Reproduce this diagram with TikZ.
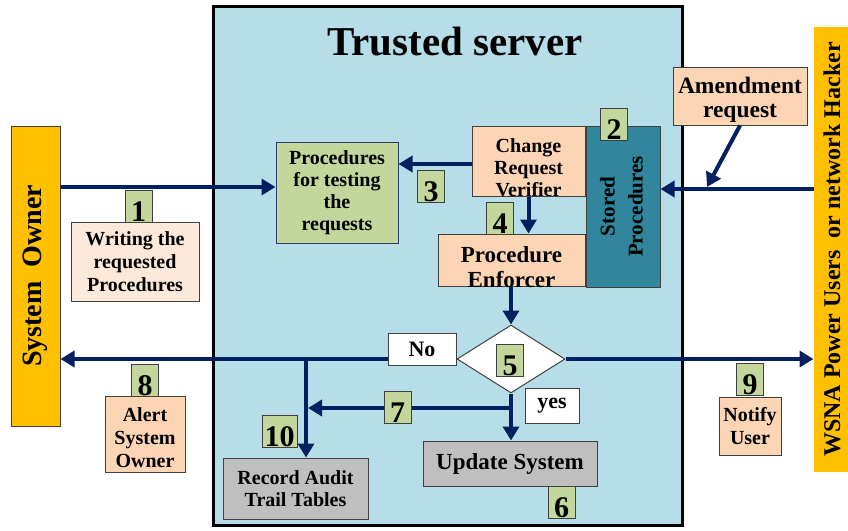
\documentclass[tikz,border=0pt]{standalone}
\usepackage{fontspec}
\setmainfont{Liberation Serif}
\usetikzlibrary{arrows.meta,shapes.geometric}

\definecolor{serverblue}{RGB}{183,222,232}
\definecolor{actororange}{RGB}{255,192,0}
\definecolor{peach}{RGB}{252,213,181}
\definecolor{pinklight}{RGB}{253,233,217}
\definecolor{numgreen}{RGB}{195,214,155}
\definecolor{tealbox}{RGB}{49,133,156}
\definecolor{greybox}{RGB}{191,191,191}
\definecolor{navy}{RGB}{0,32,96}
\definecolor{boxline}{RGB}{64,64,64}
\definecolor{procline}{RGB}{40,60,110}

\begin{document}
\begin{tikzpicture}[x=1pt,y=-1pt,
  box/.style={draw=boxline, line width=1pt, align=center, inner sep=0pt,
    text=black, font=\bfseries\fontsize{20}{22}\selectfont},
  txt/.style={align=center, inner sep=0pt, text=black,
    font=\bfseries\fontsize{20}{22}\selectfont},
  num/.style={draw=boxline, line width=1pt, fill=numgreen, minimum width=27pt,
    minimum height=32pt, inner sep=0pt, text=black,
    font=\bfseries\fontsize{30}{30}\selectfont, text height=30pt, text depth=0pt},
  flow/.style={draw=navy, line width=4pt, -{Triangle[length=14pt,width=16pt]}},
  ]
\useasboundingbox (0,0) rectangle (848,530);

% trusted server frame and title
\node[draw=black, line width=3pt, fill=serverblue, minimum width=469pt,
  minimum height=519pt, inner sep=0pt] (srv) at (448,266) {};
\node[txt, font=\bfseries\fontsize{41}{41}\selectfont] (title) at (455,42) {Trusted server};

% actors on both sides
\node[box, fill=actororange, minimum width=49pt, minimum height=300pt,
  font=\bfseries\fontsize{28}{28}\selectfont] (so) at (35.5,276)
  {\rotatebox{90}{System\ \ Owner}};
\node[box, draw=none, fill=actororange, minimum width=36pt, minimum height=445pt,
  font=\bfseries\fontsize{24}{24}\selectfont] (wsna) at (832,249.5)
  {\rotatebox{90}{WSNA Power Users\ \ or network Hacker}};

% processing blocks inside the server
\node[box, fill=numgreen, draw=procline, minimum width=122pt, minimum height=101pt]
  (proc) at (337,192.5) {Procedures\\for testing\\the\\requests};
\node[box, fill=peach, minimum width=113pt, minimum height=70pt] (crv) at (528.5,161) {};
\node[txt] (crvtext) at (528.5,167.5) {Change\\Request\\Verifier};
\node[box, fill=tealbox, minimum width=74pt, minimum height=161pt,
  font=\bfseries\fontsize{21}{28}\selectfont] (stored) at (623,206.5)
  {\rotatebox{90}{\begin{tabular}{@{}c@{}}Stored\\Procedures\end{tabular}}};
\node[box, fill=peach, minimum width=147pt, minimum height=52pt] (pe) at (511.5,260) {};
\node[txt, font=\bfseries\fontsize{23}{25}\selectfont] (petext) at (511.5,267.5)
  {Procedure\\Enforcer};
\node[diamond, draw=boxline, line width=1pt, fill=white, minimum width=108pt,
  minimum height=68pt, inner sep=0pt] (dec) at (511,359) {};
\node[box, fill=greybox, minimum width=174pt, minimum height=45pt,
  font=\bfseries\fontsize{23}{25}\selectfont] (upd) at (510,463.5) {Update System};
\node[box, fill=greybox, minimum width=145pt, minimum height=61pt]
  (rec) at (295.5,488.5) {Record Audit\\Trail Tables};

% annotation boxes outside the server
\node[box, fill=pinklight, minimum width=128pt, minimum height=79pt,
  font=\bfseries\fontsize{20}{23}\selectfont] (write) at (135,261.5)
  {Writing the\\requested\\Procedures};
\node[box, fill=peach, minimum width=80pt, minimum height=76pt] (alert) at (145,434.5) {};
\node[txt, font=\bfseries\fontsize{20}{23}\selectfont] (alerttext) at (145,437.5)
  {Alert\\System\\Owner};
\node[box, fill=peach, minimum width=62pt, minimum height=58pt,
  font=\bfseries\fontsize{20}{23}\selectfont] (notify) at (750,426) {Notify\\User};
\node[box, fill=peach, minimum width=134pt, minimum height=58pt] (amend) at (740,96) {};
\node[txt, font=\bfseries\fontsize{23.5}{24}\selectfont] (amendtext) at (740,99.5)
  {Amendment\\request};

% connectors
\draw[flow] (so.east |- 0,187) -- (proc.west |- 0,187);
\draw[flow] (crv.west |- 0,164) -- (proc.east |- 0,164);
\draw[flow] (crv.south) -- (crv.south |- pe.north);
\draw[flow] (pe.south -| dec.north) -- (dec.north);
\draw[flow] (dec.east) -- (dec.east -| wsna.west);
\draw[flow] (dec.west) -- (dec.west -| so.east);
\coordinate (jn) at (306,359);
\draw[flow] (jn) -- (jn |- rec.north);
\draw[flow] (dec.south) -- (dec.south |- upd.north);
\coordinate (jy) at (dec.south |- 0,408);
\draw[flow] (jy) -- ([xshift=2pt]jn |- jy);
\draw[flow] (wsna.west |- 0,189) -- (stored.east |- 0,189);
\coordinate (amtip) at (707,187);
\draw[flow] (amend.south) -- (amtip);

% decision labels
\node[box, fill=white, minimum width=68pt, minimum height=32pt,
  font=\bfseries\fontsize{22}{22}\selectfont] (no) at (422,349) {No};
\node[box, fill=white, minimum width=54pt, minimum height=35pt,
  font=\bfseries\fontsize{22}{22}\selectfont] (yes) at (552,405.5) {yes};

% step numbers
\node[num] (n1) at (138.5,206) {1};
\node[num] (n2) at (614,124) {2};
\node[num] (n3) at (431,186.5) {3};
\node[num] (n4) at (500,218.5) {4};
\node[num] (n5) at (510,360) {5};
\node[num] (n6) at (561.5,502) {6};
\node[num] (n7) at (397.5,407) {7};
\node[num] (n8) at (145,380) {8};
\node[num] (n9) at (750,379) {9};
\node[num, minimum width=35pt] (n10) at (279.5,431) {10};
\end{tikzpicture}
\end{document}
